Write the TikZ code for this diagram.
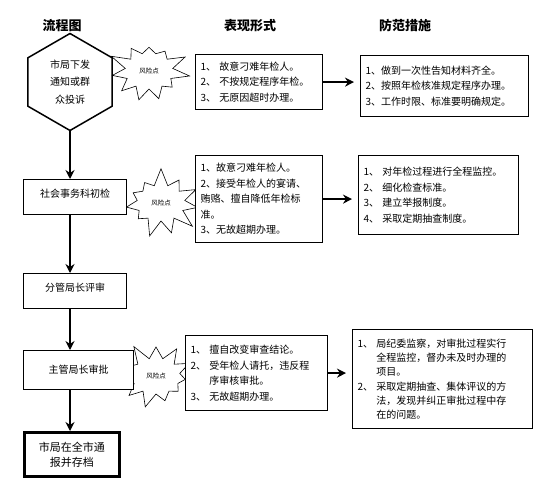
\documentclass[tikz,border=0pt]{standalone}
\usepackage{fontspec}
\setmainfont{Noto Sans CJK SC}
\usetikzlibrary{shapes.geometric, shapes.symbols, arrows.meta}

\begin{document}
\begin{tikzpicture}[x=1pt, y=-1pt, font=\fontsize{10}{15.5}\selectfont,
    box/.style={draw, line width=1.2pt, fill=white, anchor=north west, inner xsep=5pt, align=left},
    risk/.style={draw, line width=0.6pt, starburst, starburst points=11, starburst point height=18pt,
        minimum width=84pt, minimum height=72pt, inner sep=1pt, font=\fontsize{6.5}{7}\selectfont},
    flow/.style={line width=1.5pt, -{Stealth[length=9pt, width=9pt]}},
    title/.style={font=\bfseries\fontsize{13}{15}\selectfont}]

    \useasboundingbox (0,0) rectangle (545,492);

    % column titles
    \node[title] (tflow) at (62,26) {流程图};
    \node[title] (tform) at (250,26) {表现形式};
    \node[title] (tprev) at (405,26) {防范措施};

    % risk points go under the boxes
    \node[risk, random starburst=3] (risk1) at (149,71) {风险点};
    \node[risk, random starburst=7] (risk2) at (161,203) {风险点};
    \node[risk, random starburst=5] (risk3) at (156,376) {风险点};

    % flow
    \node[draw, line width=1.5pt, regular polygon, regular polygon sides=6, shape border rotate=30,
        minimum size=97pt, inner sep=0pt, align=center, font=\fontsize{10}{17.5}\selectfont]
        (notice) at (70,82) {市局下发\\通知或群\\众投诉};
    \node[box, minimum width=103pt, minimum height=35pt, align=center, text depth=8pt] (check) at (23,179) {社会事务科初检};
    \node[box, minimum width=103pt, minimum height=35pt, align=center, text depth=7pt] (review) at (23,273) {分管局长评审};
    \node[box, minimum width=110pt, minimum height=39pt, align=center] (approve) at (23,350) {主管局长审批};
    \node[box, line width=2.6pt, minimum width=95pt, minimum height=44pt, align=center,
        font=\fontsize{11}{15}\selectfont] (file) at (23,431) {市局在全市通\\报并存档};

    % forms
    \node[box, text width=117pt, minimum height=55pt] (form1) at (195,54)
        {1、 故意刁难年检人。\\2、 不按规定程序年检。\\3、 无原因超时办理。};
    \node[box, text width=117pt, minimum height=87pt] (form2) at (195,155)
        {1、故意刁难年检人。\\2、接受年检人的宴请、\\贿赂、擅自降低年检标\\准。\\3、无故超期办理。};
    \node[box, text width=132pt, minimum height=75pt] (form3) at (185,335)
        {1、 擅自改变审查结论。\\2、 受年检人请托，违反程\\\hphantom{2、}\ 序审核审批。\\3、 无故超期办理。};

    % prevention
    \node[box, text width=158pt, minimum height=61pt] (prev1) at (360,55)
        {1、做到一次性告知材料齐全。\\2、按照年检核准规定程序办理。\\3、工作时限、标准要明确规定。};
    \node[box, text width=150pt, minimum height=79pt] (prev2) at (358,155)
        {1、 对年检过程进行全程监控。\\2、 细化检查标准。\\3、 建立举报制度。\\4、 采取定期抽查制度。};
    \node[box, text width=170pt, minimum height=99pt, font=\fontsize{10}{14.3}\selectfont] (prev3) at (352,329)
        {1、 局纪委监察，对审批过程实行\\\hphantom{1、}\ 全程监控，督办未及时办理的\\\hphantom{1、}\ 项目。\\
         2、 采取定期抽查、集体评议的方\\\hphantom{2、}\ 法，发现并纠正审批过程中存\\\hphantom{2、}\ 在的问题。};

    \draw[flow] (notice.south) -- (check.north -| notice.south);
    \draw[flow] (check.south -| notice.south) -- (review.north -| notice.south);
    \draw[flow] (review.south -| notice.south) -- (approve.north -| notice.south);
    \draw[flow] (approve.south -| notice.south) -- (file.north -| notice.south);

    \draw[flow, shorten >=6pt] (form1.east) -- (form1.east -| prev1.west);
    \draw[flow, shorten >=6pt] (form2.east) -- (form2.east -| prev2.west);
    \draw[flow, shorten >=6pt] (form3.east) -- (form3.east -| prev3.west);

\end{tikzpicture}
\end{document}
